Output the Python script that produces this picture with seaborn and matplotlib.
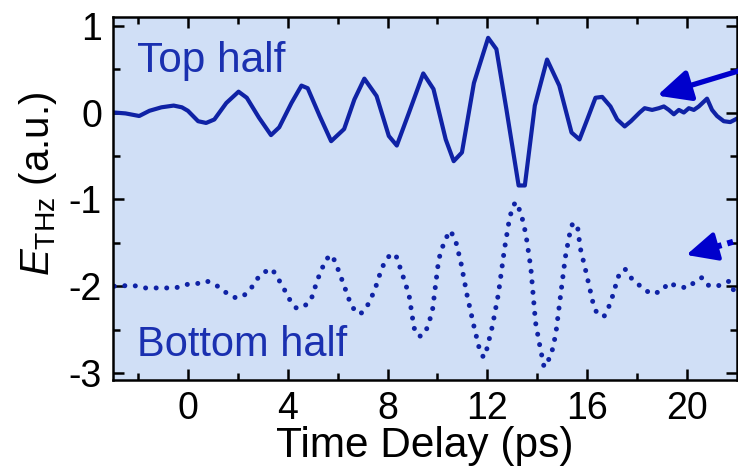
import numpy as np
import pandas as pd
import matplotlib
matplotlib.use("Agg")
import matplotlib.pyplot as plt
import seaborn as sns

# ---------------- data ----------------
top_t = [-2.95, -2.5, -1.95, -1.54, -1.06, -0.57, -0.24, 0.0, 0.41, 0.73, 1.06, 1.54, 2.03,
         2.36, 2.85, 3.33, 3.66, 4.15, 4.55, 4.8, 5.28, 5.74, 6.26, 6.67, 7.07, 7.56, 8.05,
         8.37, 8.86, 9.43, 9.84, 10.33, 10.65, 10.98, 11.46, 12.03, 12.36, 12.76, 13.25,
         13.5, 13.9, 14.39, 14.88, 15.37, 15.69, 16.0, 16.33, 16.6, 16.93, 17.2, 17.5,
         17.75, 18.1, 18.3, 18.6, 18.87, 19.07, 19.27, 19.47, 19.67, 19.87, 20.07, 20.27,
         20.47, 20.8, 21.0, 21.2, 21.47, 21.73, 22.0]
top_v = [0.0, -0.01, -0.04, 0.02, 0.06, 0.08, 0.06, 0.02, -0.10, -0.12, -0.08, 0.11, 0.24,
         0.17, -0.06, -0.26, -0.17, 0.11, 0.31, 0.28, -0.04, -0.33, -0.19, 0.15, 0.39, 0.19,
         -0.27, -0.38, 0.0, 0.45, 0.27, -0.31, -0.56, -0.46, 0.34, 0.86, 0.73, 0.04, -0.84,
         -0.84, 0.08, 0.61, 0.31, -0.23, -0.31, -0.08, 0.17, 0.18, 0.07, -0.08, -0.16,
         -0.10, 0.0, 0.05, 0.03, 0.05, 0.07, 0.03, -0.02, 0.03, 0.0, 0.05, 0.03,
         0.07, 0.16, 0.03, -0.04, -0.10, -0.11, -0.07]

bot_t = [-2.95, -2.2, -1.74, -1.3, -0.5, -0.05, 0.37, 0.76, 1.19, 1.51, 1.87, 2.2, 2.52,
         2.76, 3.04, 3.37, 3.63, 3.85, 4.07, 4.34, 4.63, 4.93, 5.2, 5.53, 5.77, 5.93, 6.23,
         6.54, 6.75, 6.91, 7.15, 7.48, 7.76, 7.93, 8.13, 8.33, 8.59, 8.86, 9.06, 9.27, 9.51,
         9.79, 10.05, 10.29, 10.52, 10.73, 10.94, 11.19, 11.46, 11.66, 11.84, 11.98, 12.2,
         12.44, 12.68, 12.89, 13.01, 13.12, 13.34, 13.54, 13.74, 13.93, 14.09, 14.27, 14.55,
         14.74, 14.96, 15.12, 15.28, 15.4, 15.5, 15.61, 15.72, 15.93, 16.23, 16.37, 16.67,
         16.86, 17.02, 17.24, 17.51, 17.8, 18.05, 18.34, 18.62, 19.02, 19.24, 19.6, 20.0,
         20.41, 20.6, 20.86, 21.2, 21.46, 21.7, 21.87, 22.0]
bot_v = [-2.0, -1.99, -2.02, -2.02, -2.02, -1.98, -1.97, -1.94, -2.0, -2.07, -2.13, -2.12,
         -2.03, -1.92, -1.84, -1.80, -1.92, -2.03, -2.15, -2.25, -2.24, -2.16, -1.92, -1.69,
         -1.64, -1.74, -1.97, -2.22, -2.30, -2.32, -2.25, -2.05, -1.80, -1.70, -1.63, -1.64,
         -1.86, -2.10, -2.48, -2.58, -2.54, -2.30, -1.69, -1.47, -1.36, -1.48, -1.73, -2.11,
         -2.46, -2.70, -2.82, -2.72, -2.46, -2.09, -1.58, -1.21, -1.10, -1.03, -1.15, -1.40,
         -1.79, -2.42, -2.67, -2.93, -2.80, -2.55, -2.04, -1.67, -1.42, -1.29, -1.27, -1.31,
         -1.56, -1.81, -2.19, -2.30, -2.35, -2.24, -2.11, -1.89, -1.80, -1.92, -1.98, -2.05,
         -2.09, -2.05, -1.96, -2.0, -2.02, -1.93, -1.90, -1.99, -2.0, -1.97, -1.94, -2.05, -2.03]

x_ticks = [0, 4, 8, 12, 16, 20]
y_ticks = [-3, -2, -1, 0, 1]
labels = ["Top half", "Bottom half"]

# ---------------- style ----------------
sns.set_style("ticks")
plt.rcParams["font.family"] = ["Liberation Sans", "DejaVu Sans"]
plt.rcParams["mathtext.fontset"] = "custom"
plt.rcParams["mathtext.rm"] = "Liberation Sans"
plt.rcParams["mathtext.it"] = "Liberation Sans:italic"
plt.rcParams["axes.unicode_minus"] = False
plt.rcParams["text.color"] = "black"
plt.rcParams["axes.labelcolor"] = "black"
plt.rcParams["axes.edgecolor"] = "black"

line_col = "#0f22a5"
text_col = "#1a30b0"
arrow_col = "#0000cc"
bg_col = "#d0dff6"

fig = plt.figure(figsize=(7.38, 4.72), dpi=100)
ax = fig.add_axes([113 / 738, 1 - 380 / 472, (737 - 113) / 738, (380 - 17) / 472])
ax.set_facecolor(bg_col)

top_df = pd.DataFrame({"t": top_t, "v": top_v})
bot_df = pd.DataFrame({"t": bot_t, "v": bot_v})

sns.lineplot(data=top_df, x="t", y="v", ax=ax, color=line_col, lw=3.0,
             estimator=None, sort=False, solid_joinstyle="round", solid_capstyle="round")
sns.lineplot(data=bot_df, x="t", y="v", ax=ax, color=line_col, lw=3.6,
             estimator=None, sort=False, linestyle=(0, (0.01, 2.1)),
             dash_capstyle="round")

ax.set_xlim(-3, 22)
ax.set_ylim(-3.08, 1.10)
ax.set_xticks(x_ticks)
ax.set_yticks(y_ticks)
ax.set_xticks(np.arange(-2, 22, 4), minor=True)
ax.set_yticks(np.arange(-2.5, 1.0, 1.0), minor=True)
ax.tick_params(which="both", direction="in", top=True, right=True, width=1.8,
               labelsize=27, colors="black")
ax.tick_params(which="major", length=8, pad=8)
ax.tick_params(which="minor", length=5)
for s in ax.spines.values():
    s.set_linewidth(1.8)
    s.set_color("black")

ax.set_xlabel("Time Delay (ps)", fontsize=30.5, color="black")
ax.xaxis.set_label_coords(0.5, -0.128)
ax.set_ylabel(r"$E_{\rm THz}$ (a.u.)", fontsize=29, color="black")
ax.yaxis.set_label_coords(-0.087, 0.54)

ax.text(-2.03, 0.47, labels[0], fontsize=30.5, color=text_col, va="baseline", ha="left")
ax.text(-2.03, -2.80, labels[1], fontsize=30, color=text_col, va="baseline", ha="left")

# arrows entering from the right edge
head = "-|>,head_length=2.0,head_width=0.95"
ax.annotate("", xy=(18.8, 0.195), xytext=(22.3, 0.50), annotation_clip=False,
            arrowprops=dict(arrowstyle=head, color=arrow_col, lw=3.8,
                            shrinkA=0, shrinkB=0))
# dashed shaft + solid head for the lower arrow
ax.annotate("", xy=(21.05, -1.555), xytext=(22.3, -1.45), annotation_clip=False,
            arrowprops=dict(arrowstyle="-", color=arrow_col, lw=4.3, ls=(0, (1, 1)),
                            capstyle="butt", shrinkA=0, shrinkB=0))
ax.annotate("", xy=(19.97, -1.64), xytext=(21.15, -1.545), annotation_clip=False,
            arrowprops=dict(arrowstyle="-|>,head_length=1.9,head_width=0.9",
                            color=arrow_col, lw=3.0, shrinkA=0, shrinkB=0))

fig.savefig("out.png", dpi=100)
